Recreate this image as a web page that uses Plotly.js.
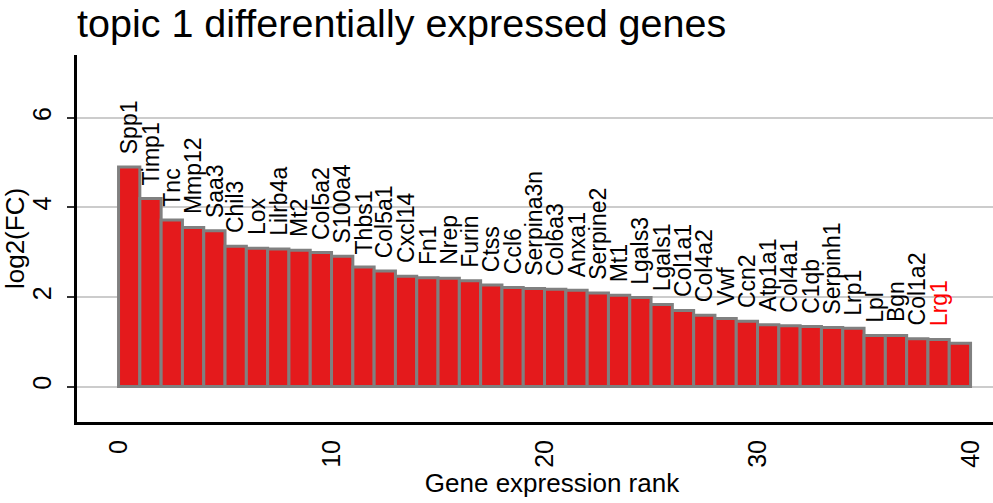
<!DOCTYPE html>
<html>
<head>
<meta charset="utf-8">
<script src="https://cdn.plot.ly/plotly-3.0.1.min.js"></script>
<style>html,body{margin:0;padding:0;background:#fff;overflow:hidden;}#chart{width:1030px;height:503px;}</style>
</head>
<body>
<div id="chart"></div>
<script>
// Data
const ranks = [1,2,3,4,5,6,7,8,9,10,11,12,13,14,15,16,17,18,19,20,21,22,23,24,25,26,27,28,29,30,31,32,33,34,35,36,37,38,39,40];
const log2FC = [4.90,4.20,3.72,3.55,3.48,3.13,3.09,3.07,3.04,2.99,2.91,2.67,2.58,2.46,2.43,2.42,2.36,2.27,2.21,2.19,2.17,2.15,2.09,2.04,1.99,1.83,1.70,1.59,1.52,1.46,1.38,1.36,1.34,1.32,1.30,1.14,1.14,1.07,1.05,0.97];
const genes = ["Spp1","Timp1","Tnc","Mmp12","Saa3","Chil3","Lox","Lilrb4a","Mt2","Col5a2","S100a4","Thbs1","Col5a1","Cxcl14","Fn1","Nrep","Furin","Ctss","Ccl6","Serpina3n","Col6a3","Anxa1","Serpine2","Mt1","Lgals3","Lgals1","Col1a1","Col4a2","Vwf","Ccn2","Atp1a1","Col4a1","C1qb","Serpinh1","Lrp1","Lpl","Bgn","Col1a2","Lrg1",""];
const highlighted = ["Lrg1"];
const xTicks = [0,10,20,30,40];
const yTicks = [0,2,4,6];

const FONT = "Arial, 'Liberation Sans', sans-serif";
const W = 1030, H = 503;
const xs = ranks.map(r => r - 0.5);

const trace = {
  type: "bar",
  x: xs,
  y: log2FC,
  width: 1,
  marker: {color: "#E41A1C", line: {color: "#808080", width: 3}},
  hoverinfo: "skip"
};

const annotations = genes.map((g, i) => ({
  x: xs[i], y: log2FC[i], xref: "x", yref: "y",
  text: g, showarrow: false, textangle: -90,
  xanchor: "center", yanchor: "bottom", yshift: 11,
  font: {family: FONT, size: 23, color: highlighted.includes(g) ? "#FF0000" : "#000000"}
})).filter(a => a.text !== "");

const layout = {
  width: W, height: H,
  margin: {l: 77, r: 3, t: 55, b: 81},
  paper_bgcolor: "#ffffff", plot_bgcolor: "#ffffff",
  showlegend: false,
  bargap: 0,
  title: {
    text: "topic 1 differentially expressed genes",
    font: {family: FONT, size: 39.5, color: "#000000"},
    x: 77/W, xanchor: "left", xref: "container",
    y: 0.953, yanchor: "middle", yref: "container"
  },
  xaxis: {
    range: [-1.95, 42.65],
    tickvals: xTicks, ticktext: xTicks.map(String),
    tickangle: -90, ticks: "",
    tickfont: {family: FONT, size: 25, color: "#000000"},
    showgrid: false, zeroline: false,
    showline: true, linecolor: "#000000", linewidth: 3,
    ticklabelstandoff: 5,
    title: {text: "Gene expression rank", font: {family: FONT, size: 26, color: "#000000"}, standoff: 4}
  },
  yaxis: {
    range: [-0.79, 7.40],
    tickvals: yTicks, ticktext: yTicks.map(String),
    tickangle: -90, ticks: "outside", ticklen: 7, tickwidth: 2, tickcolor: "#333333",
    tickfont: {family: FONT, size: 25, color: "#000000"},
    ticklabelstandoff: 6,
    showgrid: true, gridcolor: "#cccccc", gridwidth: 2,
    zeroline: false,
    showline: true, linecolor: "#000000", linewidth: 3,
    title: {text: "log2(FC)", font: {family: FONT, size: 26, color: "#000000"}, standoff: 4}
  },
  annotations: annotations
};

Plotly.newPlot("chart", [trace], layout, {staticPlot: true, displayModeBar: false});
</script>
</body>
</html>
